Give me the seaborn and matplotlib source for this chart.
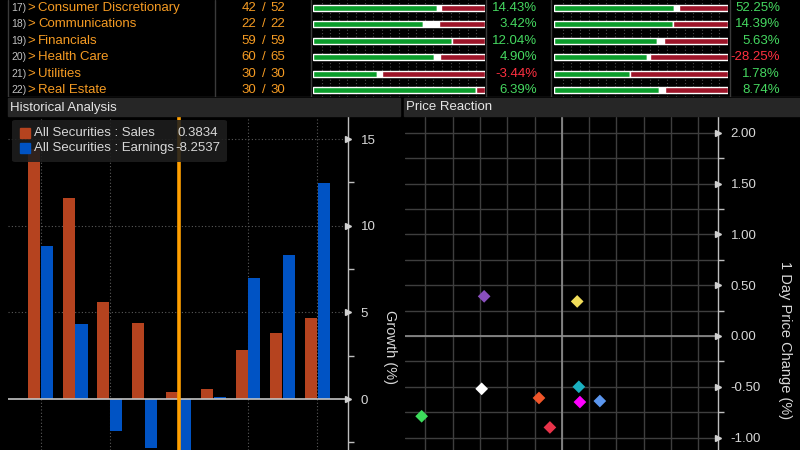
import numpy as np
import pandas as pd
import matplotlib
matplotlib.use("Agg")
import matplotlib.pyplot as plt
import matplotlib.transforms as mtransforms
from matplotlib.patches import Rectangle, FancyBboxPatch
import seaborn as sns

sns.set_theme(style="dark")
plt.rcParams['font.family'] = ['Liberation Sans', 'DejaVu Sans']
plt.rcParams['axes.unicode_minus'] = False

# ---------------- data ----------------
row_ids = ["17)", "18)", "19)", "20)", "21)", "22)"]
sectors = ["Consumer Discretionary", "Communications", "Financials",
           "Health Care", "Utilities", "Real Estate"]
reported = [42, 22, 59, 60, 30, 30]
total = [52, 22, 59, 65, 30, 30]
sales_beat = [0.721, 0.640, 0.808, 0.703, 0.372, 0.948]
sales_inline = [0.023, 0.093, 0.0, 0.035, 0.029, 0.0]
sales_surprise = [14.43, 3.42, 12.04, 4.90, -3.44, 6.39]
eps_beat = [0.690, 0.684, 0.592, 0.534, 0.437, 0.603]
eps_inline = [0.029, 0.0, 0.040, 0.017, 0.0, 0.034]
eps_surprise = [52.25, 14.39, 5.63, -28.25, 1.78, 8.74]

periods = ["P1", "P2", "P3", "P4", "P5", "P6", "P7", "P8", "P9"]
sales_growth = [14.4, 11.6, 5.6, 4.4, 0.3834, 0.6, 2.8, 3.8, 4.65]
earn_growth = [8.8, 4.35, -1.85, -2.8, -8.2537, 0.12, 7.0, 8.3, 12.45]
cursor_idx = 4

pr_ids = ["A", "B", "C", "D", "E", "F", "G", "H", "I"]
pr_surprise = [-2.85, 0.56, -2.94, 0.62, -0.84, 0.66, 1.39, -5.14, -0.44]
pr_change = [0.39, 0.34, -0.52, -0.50, -0.61, -0.65, -0.64, -0.79, -0.90]
pr_colors = ["#8a4fbf", "#f2de5a", "#ffffff", "#1ab0c0", "#f0562a",
             "#ff00ff", "#5b96ee", "#3ddc5c", "#e8334a"]

# ---------------- colours ----------------
AMBER = "#f59b23"
GREEN_BAR = "#0a9c2a"
RED_BAR = "#9c1428"
GREEN_TXT = "#45d860"
RED_TXT = "#ff3040"
TXT = "#d8d8d8"
SALES_C = "#b5431f"
EARN_C = "#0053c4"

W, H = 800, 450
fig = plt.figure(figsize=(8, 4.5), dpi=100, facecolor="black")


def rect(x0, y0, x1, y1):
    return [x0 / W, 1 - y1 / H, (x1 - x0) / W, (y1 - y0) / H]


# ---------------- top table ----------------
ax_t = fig.add_axes(rect(0, 0, 800, 97))
ax_t.set_facecolor("black")
ax_t.set_xlim(0, 800)
ax_t.set_ylim(97, 0)
ax_t.axis("off")
row_y0, row_dy = 8, 16.4
for i in range(len(sectors)):
    y = row_y0 + row_dy * i
    ax_t.text(11, y, row_ids[i], color="#c0c0c0", fontsize=7.5, va="center", ha="left")
    ax_t.text(27.5, y, ">", color=AMBER, fontsize=9.5, va="center", ha="left")
    ax_t.text(38, y, sectors[i], color=AMBER, fontsize=9.5, va="center", ha="left")
    ax_t.text(256, y, f"{reported[i]}", color=AMBER, fontsize=9.5, va="center", ha="right")
    ax_t.text(264, y, "/", color=AMBER, fontsize=9.5, va="center", ha="center")
    ax_t.text(285, y, f"{total[i]}", color=AMBER, fontsize=9.5, va="center", ha="right")
    c1 = GREEN_TXT if sales_surprise[i] >= 0 else RED_TXT
    c2 = GREEN_TXT if eps_surprise[i] >= 0 else RED_TXT
    ax_t.text(537, y, f"{sales_surprise[i]:.2f}%", color=c1, fontsize=9.5, va="center", ha="right")
    ax_t.text(780, y, f"{eps_surprise[i]:.2f}%", color=c2, fontsize=9.5, va="center", ha="right")
for xv in [8, 215, 311, 486, 551, 730]:
    ax_t.plot([xv, xv], [0, 97], color="#3a3a3a", lw=1)
ax_t.plot([8, 800], [96.5, 96.5], color="#3a3a3a", lw=1)

nrow = len(sectors)
ylim_rows = ((97 - row_y0) / row_dy, -row_y0 / row_dy)
for (x0, x1), beat, inl in [((313, 485), sales_beat, sales_inline),
                            ((554, 728), eps_beat, eps_inline)]:
    ax_b = fig.add_axes(rect(x0, 0, x1, 97))
    ax_b.set_facecolor("none")
    ax_b.axis("off")
    ax_b.set_xlim(0, 1)
    ax_b.set_ylim(*ylim_rows)
    for xv in np.arange(0.05, 1.0, 0.05):
        ax_b.axvline(xv, color="#4a4a4a", lw=0.8, ls=(0, (1, 2)), zorder=0)
    idx = np.arange(nrow)
    beat = np.array(beat)
    inl = np.array(inl)
    ax_b.barh(idx, beat, height=0.36, color=GREEN_BAR, zorder=2)
    ax_b.barh(idx, inl, left=beat, height=0.36, color="white", zorder=2)
    ax_b.barh(idx, 1 - beat - inl, left=beat + inl, height=0.36, color=RED_BAR, zorder=2)

# ---------------- headers ----------------
for (x0, x1, label) in [(8, 400, "Historical Analysis"), (404, 800, "Price Reaction")]:
    fig.patches.append(Rectangle((x0 / W, 1 - 116 / H), (x1 - x0) / W, 18 / H,
                                 transform=fig.transFigure, color="#262626", zorder=0.5))
    fig.text((x0 + 2) / W, 1 - 107.5 / H, label, color="#e6e6e6", fontsize=9.5,
             va="center", ha="left")

# ---------------- historical analysis ----------------
ax_l = fig.add_axes(rect(8, 117, 348, 450))
ax_l.set_facecolor("black")
df = pd.DataFrame({
    "period": periods * 2,
    "growth": sales_growth + earn_growth,
    "series": ["Sales"] * len(periods) + ["Earnings"] * len(periods),
})
for v in [5, 10, 15]:
    ax_l.axhline(v, color="#5a5a5a", lw=0.8, ls=(0, (1, 2)), zorder=0)
for k in range(0, len(periods), 2):
    ax_l.axvline(k, color="#5a5a5a", lw=0.8, ls=(0, (1, 2)), zorder=0)
sns.barplot(data=df, x="period", y="growth", hue="series",
            palette={"Sales": SALES_C, "Earnings": EARN_C},
            width=0.74, gap=0.06, saturation=1, linewidth=0,
            legend=False, ax=ax_l, zorder=2)
ax_l.axhline(0, color="#c4c4c4", lw=1.2, zorder=3)
ax_l.axvline(cursor_idx, color="#ff9f00", lw=2.6, zorder=4)
ax_l.set_xlim(-0.94, 8.89)
ax_l.set_ylim(-2.94, 16.27)
ax_l.set_xlabel("")
ax_l.set_ylabel("")
ax_l.set_xticks([])
for s in ["left", "top", "bottom"]:
    ax_l.spines[s].set_visible(False)
ax_l.spines["right"].set_color("#bdbdbd")
ax_l.spines["right"].set_linewidth(1)
ax_l.yaxis.tick_right()
ax_l.set_yticks([0, 5, 10, 15])
ax_l.set_yticklabels(["0", "5", "10", "15"])
ax_l.set_yticks([-2.5, 2.5, 7.5, 12.5], minor=True)
ax_l.tick_params(axis="y", which="major", length=0, pad=9, colors=TXT, labelsize=9.5)
ax_l.tick_params(axis="y", which="minor", length=4, width=1, color="#bdbdbd", direction="out")
tr = mtransforms.blended_transform_factory(ax_l.transAxes, ax_l.transData)
ax_l.plot([1.0] * 4, [0, 5, 10, 15], ls="none", marker=">", markersize=5,
          color="#d0d0d0", transform=tr, clip_on=False, zorder=5)
fig.text(390 / W, 1 - 347 / H, "Growth (%)", rotation=-90, color=TXT,
         fontsize=10.5, va="center", ha="center")

# legend box
fig.patches.append(FancyBboxPatch((12 / W, 1 - 162 / H), 215 / W, 42 / H,
                                  boxstyle="round,pad=0,rounding_size=0.004",
                                  transform=fig.transFigure, facecolor="#1e1e1e",
                                  edgecolor="none", alpha=0.88, zorder=6))
fig.patches.append(Rectangle((20 / W, 1 - 138 / H), 10 / W, 10 / H,
                             transform=fig.transFigure, color=SALES_C, zorder=7))
fig.patches.append(Rectangle((20 / W, 1 - 153 / H), 10 / W, 10 / H,
                             transform=fig.transFigure, color=EARN_C, zorder=7))
fig.text(34 / W, 1 - 133 / H, "All Securities : Sales", color=TXT, fontsize=9.5,
         va="center", zorder=8)
fig.text(34 / W, 1 - 148 / H, "All Securities : Earnings", color=TXT, fontsize=9.5,
         va="center", zorder=8)
fig.text(178 / W, 1 - 133 / H, f"{sales_growth[cursor_idx]:.4f}", color=TXT,
         fontsize=9.5, va="center", zorder=8)
fig.text(175 / W, 1 - 148 / H, f"{earn_growth[cursor_idx]:.4f}", color=TXT,
         fontsize=9.5, va="center", zorder=8)

# ---------------- price reaction ----------------
ax_r = fig.add_axes(rect(405, 117, 718, 450))
ax_r.set_facecolor("black")
for v in np.arange(-1.0, 2.01, 0.25):
    ax_r.axhline(v, color="#3e3e3e", lw=1, zorder=0)
for v in np.arange(-5, 6, 1):
    ax_r.axvline(v, color="#3e3e3e", lw=1, zorder=0)
ax_r.axhline(0, color="#8e8e8e", lw=1.2, zorder=1)
ax_r.axvline(0, color="#8e8e8e", lw=1.2, zorder=1)
sns.scatterplot(x=pr_surprise, y=pr_change, hue=pr_ids, palette=pr_colors,
                marker="D", s=42, linewidth=0, legend=False, ax=ax_r, zorder=3)
ax_r.set_xlim(-5.75, 5.72)
ax_r.set_ylim(-1.122, 2.155)
ax_r.set_xticks([])
for s in ["left", "top", "bottom"]:
    ax_r.spines[s].set_visible(False)
ax_r.spines["right"].set_color("#bdbdbd")
ax_r.spines["right"].set_linewidth(1)
ax_r.yaxis.tick_right()
yt = [-1.0, -0.5, 0.0, 0.5, 1.0, 1.5, 2.0]
ax_r.set_yticks(yt)
ax_r.set_yticklabels([f"{v:.2f}" for v in yt])
ax_r.set_yticks([-0.75, -0.25, 0.25, 0.75, 1.25, 1.75], minor=True)
ax_r.tick_params(axis="y", which="major", length=0, pad=9, colors=TXT, labelsize=9.5)
ax_r.tick_params(axis="y", which="minor", length=4, width=1, color="#bdbdbd", direction="out")
tr2 = mtransforms.blended_transform_factory(ax_r.transAxes, ax_r.transData)
ax_r.plot([1.0] * len(yt), yt, ls="none", marker=">", markersize=5,
          color="#d0d0d0", transform=tr2, clip_on=False, zorder=5)
ax_r.set_xlabel("")
ax_r.set_ylabel("")
fig.text(785 / W, 1 - 340 / H, "1 Day Price Change (%)", rotation=-90, color=TXT,
         fontsize=10.5, va="center", ha="center")

fig.savefig("out.png", dpi=100, facecolor="black")
